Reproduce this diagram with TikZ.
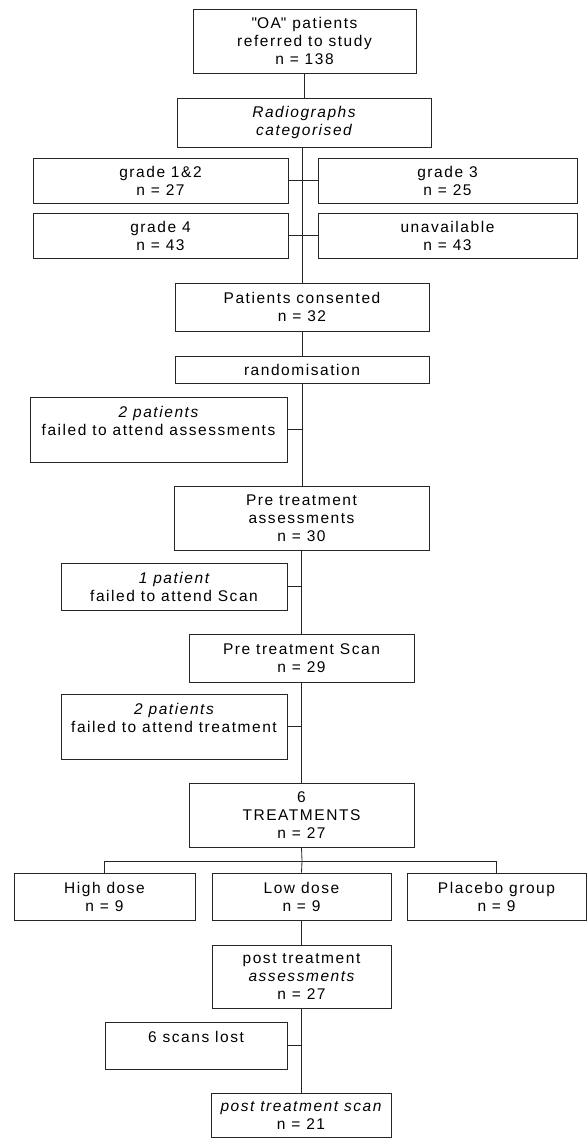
\documentclass[tikz,border=0pt]{standalone}
\usepackage{fontspec}
\setmainfont{Liberation Sans}[LetterSpace=10]
\newfontfamily\plainq{Liberation Sans}[LetterSpace=10]
\newcommand\txtf{\fontsize{15.5}{18}\selectfont}
\newcommand\sq{{\plainq\symbol{34}}}
\begin{document}
\begin{tikzpicture}[x=1pt,y=-1pt,
  box/.style={draw=black!85, line width=0.9pt, align=center, inner sep=0pt, font=\txtf},
  conn/.style={draw=black!85, line width=0.8pt}]
\useasboundingbox[fill=white] (0,0) rectangle (587,1138);
\newcommand\bx[6]{\node[box, minimum width={#4-#2}, minimum height={#5-#3}] (#1) at ({(#2+#4)/2},{(#3+#5)/2}) {#6};}
\bx{oa}{193}{9}{416}{73}{\sq OA\sq{} patients\\referred to study\\n = 138}
\bx{rad}{177}{98}{431}{147}{\itshape Radiographs\\\itshape categorised}
\bx{g12}{33}{158}{288}{203}{grade 1\&2\\n = 27}
\bx{g3}{318}{158}{577}{203}{grade 3\\n = 25}
\bx{g4}{33}{213}{288}{258}{grade 4\\n = 43}
\bx{unav}{318}{213}{577}{258}{unavailable\\n = 43}
\bx{cons}{175}{283}{429}{331}{Patients consented\\n = 32}
\bx{rand}{175}{356}{429}{383}{randomisation}
\bx{f1}{30}{397}{287}{462}{\itshape 2 patients\\failed to attend assessments\\ }
\bx{pre}{174}{486}{429}{550}{Pre treatment\\assessments\\n = 30}
\bx{f2}{61}{563}{287}{610}{\itshape 1 patient\\failed to attend Scan}
\bx{scan}{189}{634}{414}{682}{Pre treatment Scan\\n = 29}
\bx{f3}{61}{694}{287}{759}{\itshape 2 patients\\failed to attend treatment\\ }
\bx{treat}{189}{783}{414}{847}{6\\TREATMENTS\\n = 27}
\bx{high}{14}{873}{195}{920}{High dose\\n = 9}
\bx{low}{212}{873}{391}{920}{Low dose\\n = 9}
\bx{plac}{407}{873}{586}{920}{Placebo group\\n = 9}
\bx{post}{212}{945}{391}{1008}{post treatment\\\itshape assessments\\n = 27}
\bx{lost}{105}{1022}{287}{1069}{6 scans lost\\ }
\bx{pscan}{211}{1093}{391}{1137}{\itshape post treatment scan\\n = 21}
\coordinate (bk) at (302,861);
\draw[conn] (oa.south) -- (oa.south |- rad.north);
\draw[conn] (rad.south -| cons.north) -- (cons.north);
\draw[conn] (g12.east) -- (g3.west);
\draw[conn] (g4.east) -- (unav.west);
\draw[conn] (cons.south) -- (rand.north);
\draw[conn] (rand.south) -- (rand.south |- pre.north);
\draw[conn] (f1.east) -- (f1.east -| rand.south);
\draw[conn] (pre.south) -- (pre.south |- scan.north);
\draw[conn] (f2.east) -- (f2.east -| pre.south);
\draw[conn] (scan.south) -- (treat.north);
\draw[conn] (f3.east) -- (f3.east -| scan.south);
\draw[conn] (treat.south) -- (bk) -- (low.north);
\draw[conn] (high.north) |- (bk) -| (plac.north);
\draw[conn] (low.south) -- (post.north);
\draw[conn] (post.south) -- (post.south |- pscan.north);
\draw[conn] (lost.east) -- (lost.east -| post.south);
\end{tikzpicture}
\end{document}
